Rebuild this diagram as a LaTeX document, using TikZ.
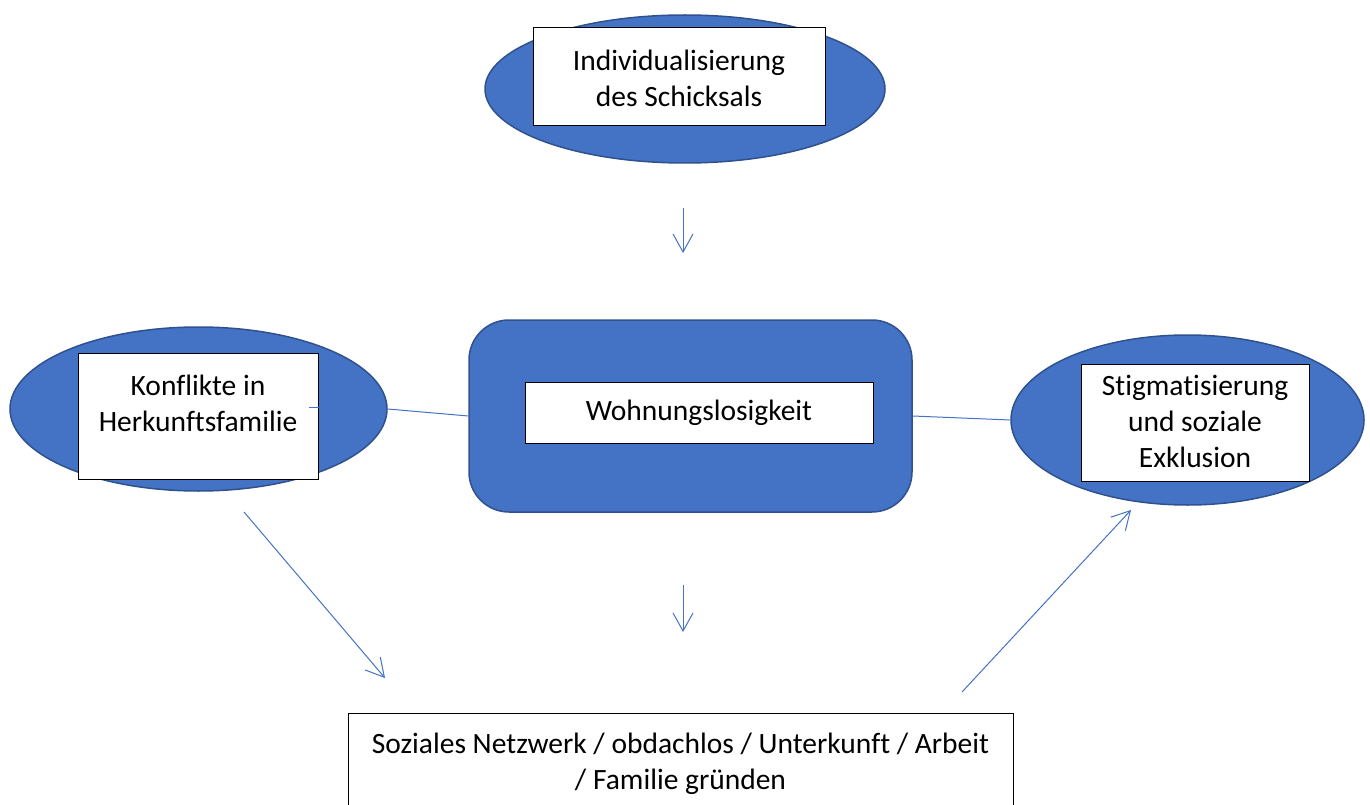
\documentclass[tikz,border=0pt]{standalone}
\usepackage{fontspec}
\setmainfont[Ligatures=NoCommon]{Carlito}
\usetikzlibrary{arrows.meta,shapes.geometric}
\definecolor{fillblue}{HTML}{4472C4}
\definecolor{edgeblue}{HTML}{2F528F}
\begin{document}
\begin{tikzpicture}[x=1pt,y=-1pt,
  blob/.style={ellipse,fill=fillblue,draw=edgeblue,line width=1.5pt,inner sep=0pt},
  wbox/.style={rectangle,fill=white,draw=black,line width=1pt,inner sep=0pt},
  txt/.style={align=center,inner sep=0pt,font=\fontsize{29.5}{36}\selectfont},
  link/.style={draw=fillblue,line width=1pt},
  arr/.style={link,-{Straight Barb[length=18pt,width=20pt,line width=1pt]}}]
\useasboundingbox (0,0) rectangle (1370,805);
\begin{scope}
\clip (0,0) rectangle (1370,805);
% top
\node[blob,minimum width=400pt,minimum height=148pt] (topell) at (685,89) {};
\node[wbox,minimum width=292pt,minimum height=98pt] (topbox) at (679,77) {};
\node[txt] (toptext) at (679,78) {Individualisierung\\des Schicksals};
% center
\node[rectangle,rounded corners=40pt,fill=fillblue,draw=edgeblue,line width=1.5pt,minimum width=443pt,minimum height=192pt] (center) at (690.5,416) {};
\node[wbox,minimum width=348pt,minimum height=61pt] (cbox) at (699,412.5) {};
\node[txt] (ctext) at (699,413) {Wohnungslosigkeit};
% left
\node[blob,minimum width=377pt,minimum height=164pt] (leftell) at (198.5,409) {};
\node[wbox,minimum width=240pt,minimum height=126pt] (lbox) at (198,416) {};
\node[txt] (ltext) at (198,403) {Konflikte in\\Herkunftsfamilie};
% right
\node[blob,minimum width=353pt,minimum height=170pt] (rightell) at (1187.5,420) {};
\node[wbox,minimum width=228pt,minimum height=117pt] (rbox) at (1195,422.5) {};
\node[txt] (rtext) at (1195,421) {Stigmatisierung\\und soziale\\Exklusion};
% bottom
\node[wbox,minimum width=665pt,minimum height=130pt,anchor=north] (bbox) at (680.5,713) {};
\node[txt] (btext) at (680.5,763.5) {Soziales Netzwerk / obdachlos / Unterkunft / Arbeit\\/ Familie gründen};
\end{scope}
% connectors
\coordinate (stub) at (309,407);
\draw[link] (stub) -- (lbox.east |- stub);
\draw[link] (leftell.east) -- (center.west);
\draw[link] (center.east) -- (rightell.west);
\coordinate (a1s) at (683,208); \coordinate (a1e) at (683,253);
\draw[arr] (a1s) -- (a1e);
\coordinate (a2s) at (683,585); \coordinate (a2e) at (683,632);
\draw[arr] (a2s) -- (a2e);
\coordinate (a3s) at (244,512); \coordinate (a3e) at (385,678);
\draw[arr] (a3s) -- (a3e);
\coordinate (a4s) at (962,692); \coordinate (a4e) at (1131,510);
\draw[arr] (a4s) -- (a4e);
\end{tikzpicture}
\end{document}
